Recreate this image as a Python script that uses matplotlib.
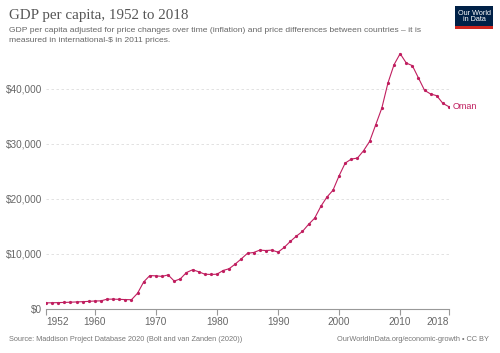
import matplotlib
matplotlib.use("Agg")
import matplotlib.pyplot as plt
from matplotlib.patches import Rectangle
from matplotlib.ticker import FuncFormatter

years = list(range(1952, 2019))
gdp = [1090, 1110, 1140, 1170, 1210, 1260, 1310, 1360, 1430, 1460,
       1760, 1770, 1730, 1690, 1660, 2850, 4900, 6050, 6000, 5900,
       6170, 5050, 5450, 6600, 7100, 6750, 6300, 6250, 6300, 6970,
       7300, 8150, 9100, 10100, 10240, 10670, 10600, 10670, 10300, 11150,
       12240, 13210, 14060, 15350, 16480, 18600, 20300, 21550, 24180, 26480,
       27210, 27390, 28720, 30420, 33450, 36480, 41030, 44360, 46360, 44660,
       44180, 41940, 39690, 39030, 38720, 37320, 36720]
country = "Oman"
xticks = [1952, 1960, 1970, 1980, 1990, 2000, 2010, 2018]
yticks = [0, 10000, 20000, 30000, 40000]

line_color = "#c01e5f"
grey = "#666666"
plt.rcParams["font.family"] = ["Liberation Sans", "DejaVu Sans"]

fig = plt.figure(figsize=(5, 3.53), dpi=100)
ax = fig.add_axes([0.092, 0.125, 0.806, 0.733])

ax.plot(years, gdp, color=line_color, linewidth=0.8, marker="o", markersize=1.3)
ax.text(years[-1] + 0.6, gdp[-1], country, color=line_color, fontsize=6.5,
        va="center", ha="left")

ax.set_xlim(1952, 2018)
ax.set_ylim(0, 47000)
ax.set_xticks(xticks)
ax.set_yticks(yticks)
ax.yaxis.set_major_formatter(FuncFormatter(lambda v, p: "${:,.0f}".format(v)))
ax.tick_params(axis="y", length=0, labelsize=7.2, labelcolor=grey, pad=3)
ax.tick_params(axis="x", length=4, color="#999999", labelsize=7.2, labelcolor=grey, pad=2)
xlabels = ax.get_xticklabels()
xlabels[0].set_horizontalalignment("left")
xlabels[-1].set_horizontalalignment("right")
ax.grid(axis="y", color="#dddddd", linestyle=(0, (3, 3)), linewidth=0.6)
ax.set_axisbelow(True)
for s in ["left", "top", "right"]:
    ax.spines[s].set_visible(False)
ax.spines["bottom"].set_color("#999999")
ax.spines["bottom"].set_linewidth(0.8)

fig.text(0.018, 0.955, "GDP per capita, 1952 to 2018", family=["Liberation Serif"],
         fontsize=10.8, color="#555555", va="center")
fig.text(0.018, 0.915, "GDP per capita adjusted for price changes over time (inflation) and price differences between countries \u2013 it is",
         fontsize=6.1, color=grey, va="center")
fig.text(0.018, 0.884, "measured in international-$ in 2011 prices.",
         fontsize=6.1, color=grey, va="center")

# logo
fig.patches.append(Rectangle((0.910, 0.918), 0.076, 0.064, transform=fig.transFigure,
                             facecolor="#002147", edgecolor="none"))
fig.patches.append(Rectangle((0.910, 0.918), 0.076, 0.007, transform=fig.transFigure,
                             facecolor="#ce261e", edgecolor="none"))
fig.text(0.948, 0.953, "Our World\nin Data", color="white", fontsize=5.2,
         ha="center", va="center", linespacing=0.95)

fig.text(0.018, 0.037, "Source: Maddison Project Database 2020 (Bolt and van Zanden (2020))",
         fontsize=5.3, color="#777777", va="center")
fig.text(0.977, 0.037, "OurWorldInData.org/economic-growth \u2022 CC BY",
         fontsize=5.3, color="#777777", va="center", ha="right")

fig.savefig("out.png", dpi=100)
